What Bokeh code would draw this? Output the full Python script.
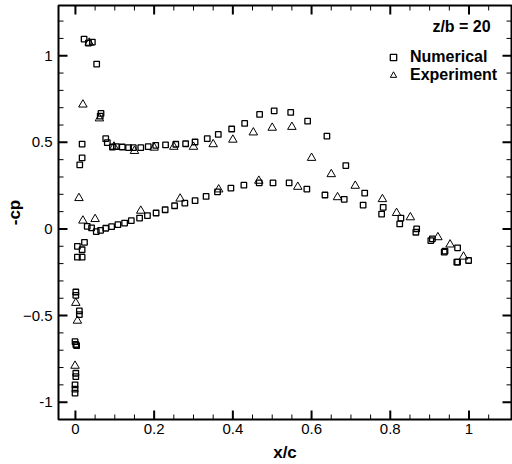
from bokeh.plotting import figure
from bokeh.models import SingleIntervalTicker, Range1d, Legend, LegendItem, Label
from bokeh.embed import file_html
from bokeh.resources import INLINE

# Numerical (squares)
num_x = [0.001, 0.001, 0.010, 0.010, -0.001, 0.003, 0.001, 0.001, 0.001, -0.001, -0.001, -0.001,
         0.005, 0.017, 0.023, 0.005, 0.017,
         0.011, 0.017, 0.017, 0.022, 0.033, 0.043, 0.054, 0.063, 0.065,
         0.077, 0.081, 0.094, 0.104, 0.119, 0.135, 0.147, 0.166, 0.185, 0.204, 0.229, 0.255,
         0.280, 0.304, 0.335, 0.363, 0.397, 0.430, 0.468, 0.505, 0.547, 0.590, 0.639, 0.687,
         0.735, 0.782, 0.827, 0.867, 0.907, 0.939, 0.971, 0.999,
         0.030, 0.041, 0.053, 0.064, 0.077, 0.092, 0.108, 0.125, 0.142, 0.163, 0.183, 0.205,
         0.228, 0.252, 0.278, 0.304, 0.332, 0.361, 0.395, 0.428, 0.467, 0.502, 0.543, 0.588,
         0.634, 0.683, 0.731, 0.778, 0.824, 0.865, 0.903, 0.937, 0.969, 0.971]
num_y = [-0.364, -0.383, -0.473, -0.494, -0.651, -0.674, -0.667, -0.833, -0.853, -0.900, -0.925, -0.948,
         -0.100, -0.120, -0.077, -0.163, -0.163,
         0.370, 0.410, 0.490, 1.096, 1.073, 1.079, 0.952, 0.651, 0.667,
         0.521, 0.498, 0.473, 0.475, 0.473, 0.469, 0.469, 0.469, 0.475, 0.483, 0.485, 0.489,
         0.492, 0.502, 0.521, 0.546, 0.577, 0.609, 0.661, 0.682, 0.673, 0.622, 0.536, 0.366,
         0.207, 0.125, 0.063, 0.000, -0.057, -0.128, -0.192, -0.182,
         0.015, 0.006, -0.015, -0.008, 0.004, 0.013, 0.025, 0.034, 0.048, 0.063, 0.077, 0.092,
         0.111, 0.134, 0.149, 0.163, 0.188, 0.214, 0.236, 0.253, 0.266, 0.266, 0.266, 0.230,
         0.196, 0.171, 0.138, 0.086, 0.029, -0.019, -0.067, -0.134, -0.192, -0.109]

# Experiment (triangles)
exp_x = [0.001, 0.005, -0.001, 0.009, 0.019, 0.050, 0.019, 0.061, 0.035,
         0.098, 0.150, 0.200, 0.250, 0.300, 0.350, 0.400, 0.452, 0.500, 0.550, 0.600,
         0.650, 0.711, 0.780, 0.816, 0.851, 0.921, 0.952, 0.986,
         0.166, 0.266, 0.364, 0.466, 0.565, 0.666]
exp_y = [-0.427, -0.530, -0.790, 0.178, 0.048, 0.057, 0.718, 0.638, 1.075,
         0.475, 0.450, 0.469, 0.474, 0.474, 0.489, 0.515, 0.557, 0.584, 0.589, 0.410,
         0.316, 0.249, 0.172, 0.092, 0.067, -0.048, -0.090, -0.160,
         0.105, 0.175, 0.228, 0.278, 0.243, 0.183]

# tick positions
x_major = [0.0, 0.2, 0.4, 0.6, 0.8, 1.0]
x_minor = [0.05, 0.1, 0.15, 0.25, 0.3, 0.35, 0.45, 0.5, 0.55, 0.65, 0.7, 0.75,
           0.85, 0.9, 0.95, 1.05]
y_major = [-1.0, -0.5, 0.0, 0.5, 1.0]
y_minor = [-0.9, -0.8, -0.7, -0.6, -0.4, -0.3, -0.2, -0.1, 0.1, 0.2, 0.3, 0.4,
           0.6, 0.7, 0.8, 0.9, 1.1, 1.2]

XMIN, XMAX = -0.043, 1.108
YMIN, YMAX = -1.1, 1.29
W, H = 512, 464
BL, BR, BT, BB = 58, 1, 5, 43
FONT = "Liberation Sans"

p = figure(width=W, height=H, x_range=Range1d(XMIN, XMAX), y_range=Range1d(YMIN, YMAX),
           output_backend="svg", toolbar_location=None,
           min_border_left=BL, min_border_right=BR, min_border_top=BT, min_border_bottom=BB)
p.grid.visible = False
p.outline_line_color = "black"
p.outline_line_width = 2
p.background_fill_color = "white"

bottom = p.below[0]
left = p.left[0]
bottom.ticker = SingleIntervalTicker(interval=0.2, num_minor_ticks=0)
left.ticker = SingleIntervalTicker(interval=0.5, num_minor_ticks=0)
for ax in [bottom, left]:
    ax.axis_line_color = None
    ax.major_tick_line_color = None
    ax.minor_tick_line_color = None
    ax.major_tick_in = 0
    ax.major_tick_out = 0
    ax.minor_tick_in = 0
    ax.minor_tick_out = 0
    ax.major_label_text_font = FONT
    ax.major_label_text_font_size = "15px"
    ax.major_label_text_color = "black"
    ax.axis_label_text_font = FONT
    ax.axis_label_text_font_style = "bold"
    ax.axis_label_text_font_size = "17px"
    ax.axis_label_text_color = "black"

bottom.major_label_overrides = {0: "0", 1: "1"}
left.major_label_overrides = {-1: "-1", 0: "0", 1: "1"}
bottom.major_label_standoff = 4
left.major_label_standoff = 6
bottom.axis_label = "x/c"
left.axis_label = "-cp"
bottom.axis_label_standoff = 6
left.axis_label_standoff = -4

# inward ticks on all four sides (px lengths converted to data units)
px_x = (XMAX - XMIN) / (W - BL - BR)
px_y = (YMAX - YMIN) / (H - BT - BB)
for ticks, ln, lw in [(x_major, 9, 2), (x_minor, 5, 1)]:
    p.segment(x0=ticks, x1=ticks, y0=[YMIN] * len(ticks), y1=[YMIN + ln * px_y] * len(ticks),
              line_color="black", line_width=lw)
    p.segment(x0=ticks, x1=ticks, y0=[YMAX] * len(ticks), y1=[YMAX - ln * px_y] * len(ticks),
              line_color="black", line_width=lw)
for ticks, ln, lw in [(y_major, 9, 2), (y_minor, 5, 1)]:
    p.segment(y0=ticks, y1=ticks, x0=[XMIN] * len(ticks), x1=[XMIN + ln * px_x] * len(ticks),
              line_color="black", line_width=lw)
    p.segment(y0=ticks, y1=ticks, x0=[XMAX] * len(ticks), x1=[XMAX - ln * px_x] * len(ticks),
              line_color="black", line_width=lw)

r_num = p.scatter(num_x, num_y, marker="square", size=5.5, fill_color=None,
                  line_color="black", line_width=1.3)
r_exp = p.scatter(exp_x, exp_y, marker="triangle", size=8.5, fill_color=None,
                  line_color="black", line_width=1)

legend = Legend(items=[LegendItem(label="Numerical", renderers=[r_num]),
                       LegendItem(label="Experiment", renderers=[r_exp])],
                location=(327, 335))
legend.background_fill_alpha = 0
legend.border_line_color = None
legend.padding = 0
legend.margin = 0
legend.spacing = -1
legend.glyph_width = 16
legend.glyph_height = 16
legend.label_height = 16
legend.label_standoff = 9
legend.label_text_font = FONT
legend.label_text_font_style = "bold"
legend.label_text_font_size = "16px"
legend.label_text_color = "black"
p.add_layout(legend, "center")

p.add_layout(Label(x=1.055, y=1.17, text="z/b = 20", text_align="right",
                   text_baseline="middle", text_font=FONT, text_font_style="bold",
                   text_font_size="16px", text_color="black"))

open("out.html", "w").write(file_html(p, INLINE))
